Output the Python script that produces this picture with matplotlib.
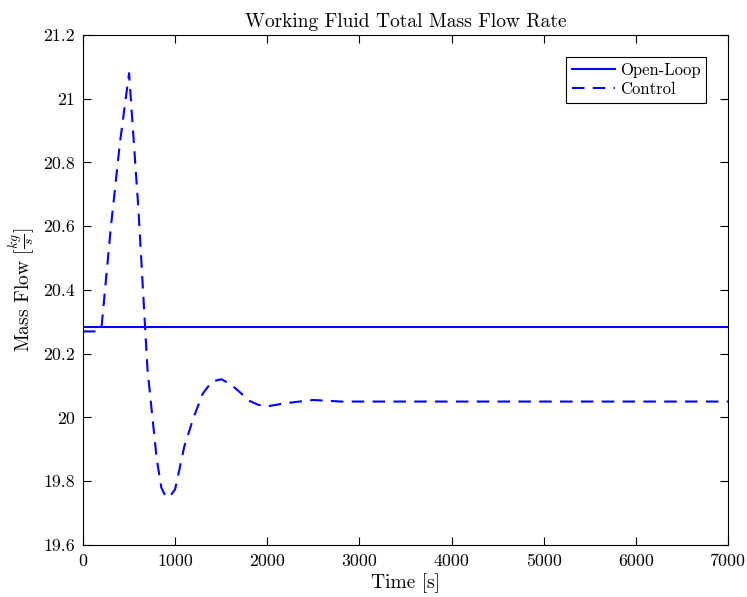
import matplotlib
matplotlib.use("Agg")
import matplotlib.pyplot as plt
from matplotlib.ticker import FuncFormatter

plt.rcParams['font.family'] = 'serif'
plt.rcParams['font.serif'] = ['cmr10']
plt.rcParams['mathtext.fontset'] = 'cm'
plt.rcParams['axes.unicode_minus'] = False

# Time axis and mass flow series
time_open = [0, 7000]
flow_open = [20.284, 20.284]

time_ctrl = [0, 150, 200, 300, 400, 500, 600, 700, 800, 850, 900, 950, 1000,
             1100, 1200, 1300, 1400, 1500, 1600, 1700, 1800, 1900, 2000, 2200,
             2500, 2800, 3000, 7000]
flow_ctrl = [20.27, 20.27, 20.28, 20.59, 20.86, 21.08, 20.66, 20.15, 19.87,
             19.78, 19.75, 19.755, 19.775, 19.91, 20.0, 20.075, 20.113, 20.12,
             20.105, 20.08, 20.053, 20.04, 20.035, 20.045, 20.055, 20.05,
             20.05, 20.05]

x_ticks = [0, 1000, 2000, 3000, 4000, 5000, 6000, 7000]
y_ticks = [19.6, 19.8, 20.0, 20.2, 20.4, 20.6, 20.8, 21.0, 21.2]

fig = plt.figure(figsize=(7.47, 5.97), dpi=100)
ax = fig.add_axes([0.1111, 0.0871, 0.8635, 0.8543])

ax.plot(time_open, flow_open, color='#0000ff', lw=1.5, label='Open-Loop')
ax.plot(time_ctrl, flow_ctrl, color='#0000ff', lw=1.5, ls=(0, (6, 4)),
        label='Control')

ax.set_xlim(0, 7000)
ax.set_ylim(19.6, 21.2)
ax.set_xticks(x_ticks)
ax.set_yticks(y_ticks)
ax.yaxis.set_major_formatter(FuncFormatter(lambda v, p: f'{v:g}'))
ax.tick_params(direction='in', length=6, width=0.8, top=True, right=True,
               labelsize=12.8, pad=6)
for s in ax.spines.values():
    s.set_linewidth(0.8)

ax.set_title('Working Fluid Total Mass Flow Rate', fontsize=14, pad=6)
ax.set_xlabel('Time [s]', fontsize=14, labelpad=3)
ax.set_ylabel(r'Mass Flow $[\frac{kg}{s}]$', fontsize=14, labelpad=4)

leg = ax.legend(loc='upper right', fontsize=12, frameon=True, fancybox=False,
                edgecolor='black', framealpha=1, handlelength=2.6,
                borderaxespad=1.3, borderpad=0.35, labelspacing=0.25,
                handletextpad=0.3)
leg.get_frame().set_linewidth(0.8)

fig.savefig('out.png', dpi=100)
